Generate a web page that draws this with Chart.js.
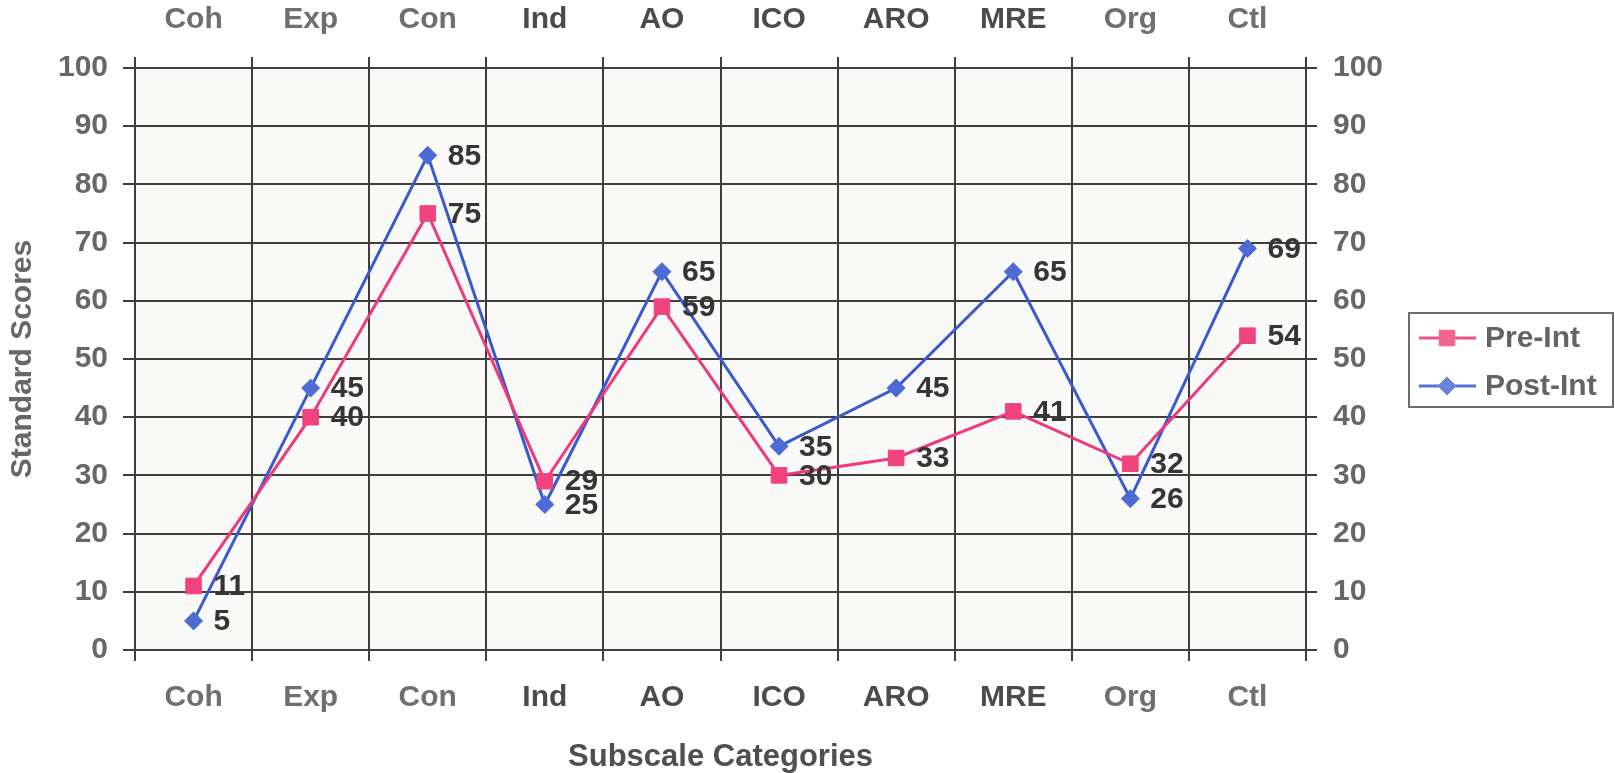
<!DOCTYPE html>
<html>
<head>
<meta charset="utf-8">
<script src="https://cdn.jsdelivr.net/npm/chart.js@4.4.1/dist/chart.umd.min.js"></script>
<style>
  html, body { margin: 0; padding: 0; background: #ffffff; }
  #wrap { width: 1615px; height: 773px; position: relative; }
  canvas { display: block; }
</style>
</head>
<body>
<div id="wrap"><canvas id="chart" width="1615" height="773"></canvas></div>
<script>
// Subscale categories (shown on both the top and bottom axes)
const categories = ['Coh', 'Exp', 'Con', 'Ind', 'AO', 'ICO', 'ARO', 'MRE', 'Org', 'Ctl'];

// Standard scores per subscale
const preInt  = [11, 40, 75, 29, 59, 30, 33, 41, 32, 54];
const postInt = [5, 45, 85, 25, 65, 35, 45, 65, 26, 69];

// Series names
const seriesNames = ['Pre-Int', 'Post-Int'];

// Value axis range and step
const yMin = 0;
const yMax = 100;
const yStep = 10;

// Axis titles
const xTitle = 'Subscale Categories';
const yTitle = 'Standard Scores';

const FONT = '"Liberation Sans", Arial, Helvetica, sans-serif';
const GRID = '#413d3d';
const TICK_GRAY = '#686666';
const LABEL_DARK = '#363434';
const PINK = '#ee3a78';
const PINK_FILL = '#f0437f';
const BLUE = '#3a59cf';
const BLUE_FILL = '#4d6ad5';

const tickFont = { family: FONT, size: 30, weight: 'bold' };
// categories in the middle of the axis print a little darker
const catColor = (ctx) => (ctx.index >= 3 && ctx.index <= 7) ? '#4c4a4a' : '#706e6e';

// Plot-area fill
const plotBackground = {
  id: 'plotBackground',
  beforeDraw(chart) {
    const { ctx, chartArea: a } = chart;
    ctx.save();
    ctx.fillStyle = '#ffffff';
    ctx.fillRect(0, 0, chart.width, chart.height);
    ctx.fillStyle = '#f9f9f7';
    ctx.fillRect(a.left, a.top, a.right - a.left, a.bottom - a.top);
    ctx.restore();
  }
};

// Value labels to the right of each marker
const valueLabels = {
  id: 'valueLabels',
  afterDatasetsDraw(chart) {
    const { ctx } = chart;
    ctx.save();
    ctx.font = 'bold 30px ' + FONT;
    ctx.fillStyle = LABEL_DARK;
    ctx.textAlign = 'left';
    ctx.textBaseline = 'middle';
    chart.data.datasets.forEach((ds, di) => {
      const meta = chart.getDatasetMeta(di);
      meta.data.forEach((pt, i) => {
        ctx.fillText(String(ds.data[i]), pt.x + 20, pt.y + 1);
      });
    });
    ctx.restore();
  }
};

// Boxed legend to the right of the value axis
const boxedLegend = {
  id: 'boxedLegend',
  afterDraw(chart) {
    const { ctx, chartArea: a } = chart;
    const left = a.right + 103;
    const right = chart.width - 2;
    const midY = (a.top + a.bottom) / 2 + 1;
    const top = midY - 47;
    const bottom = midY + 47;
    ctx.save();
    ctx.strokeStyle = '#6e6b6b';
    ctx.lineWidth = 2;
    ctx.strokeRect(left, top, right - left, bottom - top);
    const rows = [midY - 22, midY + 26];
    chart.data.datasets.forEach((ds, i) => {
      const y = rows[i];
      ctx.strokeStyle = ds.legendLine;
      ctx.lineWidth = 3;
      ctx.beginPath();
      ctx.moveTo(left + 10, y);
      ctx.lineTo(left + 67, y);
      ctx.stroke();
      ctx.fillStyle = ds.legendFill;
      ctx.strokeStyle = ds.legendFill;
      ctx.lineWidth = 1;
      Chart.helpers.drawPoint(ctx, {
        pointStyle: ds.pointStyle,
        radius: ds.pointStyle === 'rect' ? 11 : 9,
        rotation: 0,
        borderWidth: 1
      }, left + 38, y);
      ctx.fillStyle = '#656363';
      ctx.font = 'bold 30px ' + FONT;
      ctx.textAlign = 'left';
      ctx.textBaseline = 'middle';
      ctx.fillText(ds.label, left + 76, y + 1);
    });
    ctx.restore();
  }
};

new Chart(document.getElementById('chart'), {
  type: 'line',
  data: {
    labels: categories,
    datasets: [
      {
        label: seriesNames[0],
        data: preInt,
        borderColor: PINK,
        backgroundColor: PINK_FILL,
        pointBorderColor: PINK_FILL,
        borderWidth: 3,
        pointStyle: 'rect',
        pointRadius: 11,
        pointBorderWidth: 1,
        tension: 0,
        legendLine: '#f0508a',
        legendFill: '#f2658f'
      },
      {
        label: seriesNames[1],
        data: postInt,
        borderColor: BLUE,
        backgroundColor: BLUE_FILL,
        pointBorderColor: BLUE_FILL,
        borderWidth: 3,
        pointStyle: 'rectRot',
        pointRadius: 9,
        pointBorderWidth: 1,
        tension: 0,
        legendLine: '#5573d3',
        legendFill: '#6883d8'
      }
    ]
  },
  options: {
    responsive: false,
    animation: false,
    devicePixelRatio: 1,
    layout: { padding: { left: 0, top: 0, bottom: 0, right: 206 } },
    plugins: {
      legend: { display: false },
      tooltip: { enabled: false }
    },
    scales: {
      x: {
        type: 'category',
        position: 'bottom',
        offset: true,
        grid: { offset: true, color: GRID, lineWidth: 2, tickLength: 11, tickColor: GRID, tickWidth: 2 },
        border: { color: GRID, width: 2 },
        ticks: { font: tickFont, color: catColor, padding: 19, maxRotation: 0, autoSkip: false },
        title: {
          display: true, text: xTitle, color: '#504e4e',
          font: { family: FONT, size: 31, weight: 'bold', lineHeight: 1 },
          padding: { top: 0, bottom: 0 }
        },
        afterFit(s) { s.height = 123; }
      },
      x2: {
        type: 'category',
        position: 'top',
        labels: categories,
        offset: true,
        grid: { offset: true, drawOnChartArea: false, color: GRID, lineWidth: 2, tickLength: 11, tickColor: GRID, tickWidth: 2 },
        border: { color: GRID, width: 2 },
        ticks: { font: tickFont, color: catColor, padding: 19, maxRotation: 0, autoSkip: false },
        afterFit(s) { s.height = 68; }
      },
      y: {
        position: 'left',
        min: yMin,
        max: yMax,
        grid: { color: GRID, lineWidth: 2, tickLength: 12, tickColor: GRID, tickWidth: 2 },
        border: { color: GRID, width: 2 },
        ticks: { stepSize: yStep, font: tickFont, color: TICK_GRAY, padding: 15 },
        title: {
          display: true, text: yTitle, color: '#686666',
          font: { family: FONT, size: 30, weight: 'bold', lineHeight: 1 },
          padding: { top: 8, bottom: 0 }
        },
        afterFit(s) { s.width = 135; }
      },
      y2: {
        position: 'right',
        min: yMin,
        max: yMax,
        grid: { drawOnChartArea: false, color: GRID, lineWidth: 2, tickLength: 11, tickColor: GRID, tickWidth: 2 },
        border: { color: GRID, width: 2 },
        ticks: { stepSize: yStep, font: tickFont, color: TICK_GRAY, padding: 16 },
        afterFit(s) { s.width = 103; }
      }
    }
  },
  plugins: [plotBackground, valueLabels, boxedLegend]
});
</script>
</body>
</html>
